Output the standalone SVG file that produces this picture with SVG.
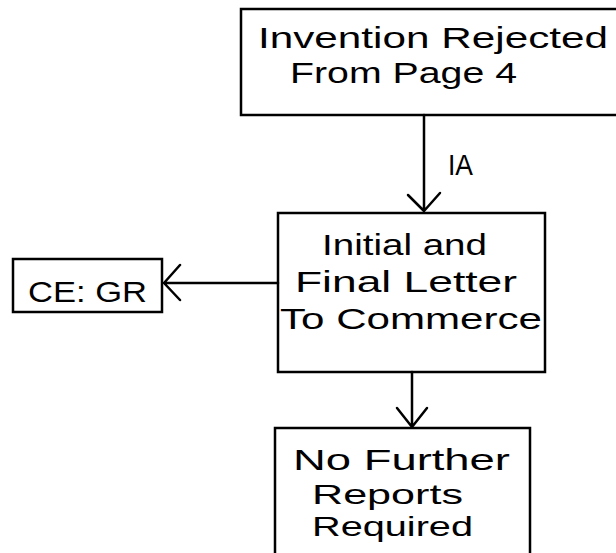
<svg xmlns="http://www.w3.org/2000/svg" width="616" height="553" viewBox="0 0 616 553">
<style>
.box{fill:none;stroke:#000;stroke-width:2.5}
.t{font-family:"Liberation Sans","DejaVu Sans",sans-serif;font-size:30px;fill:#000}
.s{font-size:28px}
.c{fill:none;stroke:#000;stroke-width:2.5;stroke-linecap:round;stroke-linejoin:round}
</style>
<rect width="616" height="553" fill="#fff"/>
<g id="n1">
<rect class="box" x="241" y="9" width="390" height="106"/>
<text class="t" x="258" y="48" textLength="350" lengthAdjust="spacingAndGlyphs">Invention Rejected</text>
<text class="t" x="290" y="83" textLength="227" lengthAdjust="spacingAndGlyphs">From Page 4</text>
</g>
<g id="n2">
<rect class="box" x="278" y="213" width="267" height="159"/>
<text class="t" x="322" y="255" textLength="165" lengthAdjust="spacingAndGlyphs">Initial and</text>
<text class="t" x="295" y="292" textLength="222" lengthAdjust="spacingAndGlyphs">Final Letter</text>
<text class="t" x="280" y="329" textLength="262" lengthAdjust="spacingAndGlyphs">To Commerce</text>
</g>
<g id="n3">
<rect class="box" x="13" y="259" width="149" height="53"/>
<text class="t" x="28" y="302" textLength="119" lengthAdjust="spacingAndGlyphs">CE: GR</text>
</g>
<g id="n4">
<rect class="box" x="275" y="428" width="255" height="140"/>
<text class="t" x="293" y="470" textLength="217" lengthAdjust="spacingAndGlyphs">No Further</text>
<text class="t s" x="312" y="504" textLength="151" lengthAdjust="spacingAndGlyphs">Reports</text>
<text class="t s" x="312" y="536" textLength="161" lengthAdjust="spacingAndGlyphs">Required</text>
</g>
<g id="connectors">
<path class="c" d="M424 115 V211 M408 195 L424 211 L440 193"/>
<text class="t" x="448" y="175" textLength="25" lengthAdjust="spacingAndGlyphs">IA</text>
<path class="c" d="M278 283 H164 M180 265 L164 283 L180 300"/>
<path class="c" d="M412 372 V427 M397 408 L412 427 L427 408"/>
</g>
</svg>
